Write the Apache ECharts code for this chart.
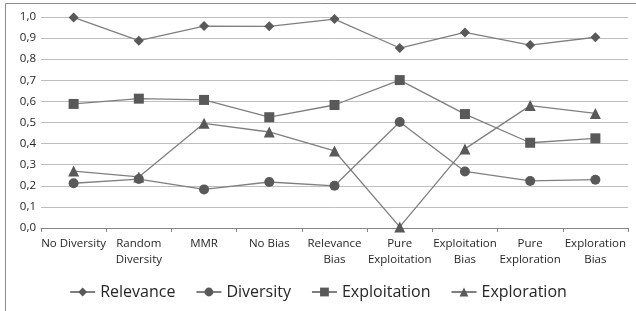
<!DOCTYPE html>
<html lang="en">
<head>
    <meta charset="UTF-8">
    <title>Chart</title>
    <script src="https://cdn.jsdelivr.net/npm/echarts@6/dist/echarts.min.js"></script>
    <style>
html, body {
    margin: 0;
    padding: 0;
    background: #fff;
}
#main {
    width: 636px;
    height: 311px;
}
    </style>
</head>
<body>
<div id="main"></div>
<script type="text/javascript">
    var categories = ['No Diversity', 'Random\nDiversity', 'MMR', 'No Bias', 'Relevance\nBias',
        'Pure\nExploitation', 'Exploitation\nBias', 'Pure\nExploration', 'Exploration\nBias'];
    var relevance = [0.998, 0.888, 0.957, 0.956, 0.99, 0.853, 0.927, 0.867, 0.904];
    var diversity = [0.212, 0.232, 0.183, 0.218, 0.2, 0.502, 0.268, 0.223, 0.229];
    var exploitation = [0.588, 0.613, 0.607, 0.525, 0.583, 0.701, 0.54, 0.404, 0.425];
    var exploration = [0.27, 0.242, 0.496, 0.455, 0.365, 0.005, 0.375, 0.58, 0.543];

    var lineColor = '#7f7f7f';
    var markColor = '#595959';

    function makeSeries(name, data, symbol, size) {
        return {
            name: name,
            type: 'line',
            data: data,
            symbol: symbol,
            symbolSize: size,
            showAllSymbol: true,
            itemStyle: {color: markColor, borderWidth: 0},
            lineStyle: {color: lineColor, width: 1.3},
            emphasis: {disabled: true}
        };
    }

    var myChart = echarts.init(document.getElementById('main'));
    myChart.setOption({
        animation: false,
        textStyle: {fontFamily: 'Open Sans'},
        graphic: [{
            type: 'rect',
            shape: {x: 5.5, y: 3.5, width: 640, height: 320},
            style: {fill: 'none', stroke: '#8c8c8c', lineWidth: 1}
        }],
        grid: {
            left: 41,
            right: 8,
            top: 17,
            bottom: 83
        },
        legend: {
            bottom: 6,
            left: 'center',
            itemWidth: 25,
            itemHeight: 11,
            itemGap: 20,
            textStyle: {fontSize: 16, color: '#262626', fontFamily: 'Open Sans'},
            data: ['Relevance', 'Diversity', 'Exploitation', 'Exploration']
        },
        xAxis: {
            type: 'category',
            data: categories,
            boundaryGap: true,
            axisLine: {lineStyle: {color: '#868686', width: 1}},
            axisTick: {show: true, alignWithLabel: false, length: 4, lineStyle: {color: '#868686'}},
            axisLabel: {
                interval: 0,
                color: '#262626',
                fontSize: 11.5,
                lineHeight: 16,
                margin: 8
            }
        },
        yAxis: {
            type: 'value',
            min: 0,
            max: 1,
            interval: 0.1,
            axisLine: {show: false},
            axisTick: {show: false},
            splitLine: {lineStyle: {color: '#bfbfbf', width: 1}},
            axisLabel: {
                color: '#262626',
                fontSize: 11.5,
                margin: 5,
                formatter: function (v) {
                    return v.toFixed(1).replace('.', ',');
                }
            }
        },
        series: [
            makeSeries('Relevance', relevance, 'diamond', 10),
            makeSeries('Diversity', diversity, 'circle', 10),
            makeSeries('Exploitation', exploitation, 'rect', 10),
            makeSeries('Exploration', exploration, 'triangle', 11)
        ]
    });
</script>
</body>
</html>
